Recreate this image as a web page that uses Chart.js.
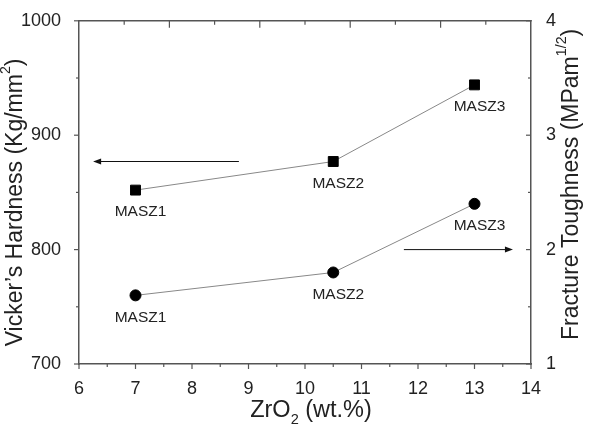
<!DOCTYPE html>
<html>
<head>
<meta charset="utf-8">
<script src="https://cdn.jsdelivr.net/npm/chart.js@4.4.0/dist/chart.umd.min.js"></script>
<style>
  html, body { margin: 0; padding: 0; background: #fff; }
  #wrap { width: 590px; height: 426px; }
</style>
</head>
<body>
<div id="wrap"><canvas id="chart" width="590" height="426"></canvas></div>
<script>
// data
const zrContent = [7, 10.5, 13];
const sampleNames = ['MASZ1', 'MASZ2', 'MASZ3'];
const hardness = [852, 877, 944];
const toughness = [1.6, 1.8, 2.4];
const xTickValues = [6, 7, 8, 9, 10, 11, 12, 13, 14];
const hardnessTicks = [700, 800, 900, 1000];
const toughnessTicks = [1, 2, 3, 4];

const fontFamily = "'Liberation Sans', Arial, sans-serif";
const textColor = '#222';
const axisColor = '#555';

function drawRich(ctx, parts, cx, cy, rot, size) {
    ctx.save();
    ctx.translate(cx, cy);
    ctx.rotate(rot);
    ctx.fillStyle = textColor;
    ctx.textBaseline = 'middle';
    ctx.textAlign = 'left';
    let total = 0;
    parts.forEach(p => {
        ctx.font = (p.s ? size * 0.62 : size) + 'px ' + fontFamily;
        p.w = ctx.measureText(p.t).width;
        total += p.w;
    });
    let xx = -total / 2;
    parts.forEach(p => {
        ctx.font = (p.s ? size * 0.62 : size) + 'px ' + fontFamily;
        let dy = 0;
        if (p.s === 'sup') dy = -size * 0.42;
        if (p.s === 'sub') dy = size * 0.38;
        ctx.fillText(p.t, xx, dy);
        xx += p.w;
    });
    ctx.restore();
}

function arrow(ctx, x1, y1, x2, y2) {
    const ang = Math.atan2(y2 - y1, x2 - x1);
    ctx.beginPath();
    ctx.moveTo(x1, y1);
    ctx.lineTo(x2 - 6 * Math.cos(ang), y2 - 6 * Math.sin(ang));
    ctx.stroke();
    ctx.beginPath();
    ctx.moveTo(x2, y2);
    ctx.lineTo(x2 - 8 * Math.cos(ang) + 3 * Math.sin(ang), y2 - 8 * Math.sin(ang) - 3 * Math.cos(ang));
    ctx.lineTo(x2 - 8 * Math.cos(ang) - 3 * Math.sin(ang), y2 - 8 * Math.sin(ang) + 3 * Math.cos(ang));
    ctx.closePath();
    ctx.fill();
}

const decor = {
    id: 'decor',
    afterDraw(chart) {
        const { ctx, chartArea: a, scales } = chart;
        const sx = scales.x, sy = scales.y, sy2 = scales.y2;
        const seg = (x1, y1, x2, y2) => {
            ctx.beginPath(); ctx.moveTo(x1, y1); ctx.lineTo(x2, y2); ctx.stroke();
        };
        ctx.save();
        ctx.strokeStyle = axisColor;
        ctx.lineWidth = 1.5;
        // top frame line
        seg(a.left - 0.75, a.top, a.right + 0.75, a.top);

        ctx.lineWidth = 1.2;
        // bottom axis ticks, outward
        for (let v = 6; v <= 14; v += 0.5) {
            const px = sx.getPixelForValue(v);
            seg(px, a.bottom, px, a.bottom + (v % 1 === 0 ? 5 : 3));
        }
        // left axis ticks, outward
        for (let v = 700; v <= 1000; v += 50) {
            const py = sy.getPixelForValue(v);
            seg(a.left, py, a.left - (v % 100 === 0 ? 5 : 3), py);
        }
        // right axis ticks, inward
        for (let v = 1; v <= 4; v += 0.5) {
            const py = sy2.getPixelForValue(v);
            seg(a.right, py, a.right - (v % 1 === 0 ? 5 : 3), py);
        }
        // top axis ticks, inward, 10 divisions
        for (let k = 1; k < 10; k++) {
            const px = a.left + k * (a.right - a.left) / 10;
            seg(px, a.top, px, a.top + (k % 2 === 0 ? 7 : 4));
        }

        // arrows pointing to the relevant axis
        ctx.strokeStyle = '#111';
        ctx.fillStyle = '#111';
        ctx.lineWidth = 1;
        const ay1 = sy.getPixelForValue(877);
        arrow(ctx, sx.getPixelForValue(8.83), ay1, sx.getPixelForValue(6.25), ay1);
        const ay2 = sy2.getPixelForValue(2.0);
        arrow(ctx, sx.getPixelForValue(11.75), ay2, sx.getPixelForValue(13.68), ay2);

        // point labels
        ctx.fillStyle = textColor;
        ctx.font = '15.5px ' + fontFamily;
        ctx.textAlign = 'center';
        ctx.textBaseline = 'middle';
        chart.data.datasets.forEach((ds, di) => {
            chart.getDatasetMeta(di).data.forEach((pt, i) => {
                ctx.fillText(sampleNames[i], pt.x + 5, pt.y + 22);
            });
        });

        // axis titles
        drawRich(ctx, [{ t: 'Vicker’s Hardness (Kg/mm' }, { t: '2', s: 'sup' }, { t: ')' }],
            16, (a.top + a.bottom) / 2 + 10, -Math.PI / 2, 23);
        drawRich(ctx, [{ t: 'Fracture Toughness (MPam' }, { t: '1/2', s: 'sup' }, { t: ')' }],
            572, (a.top + a.bottom) / 2 - 8, -Math.PI / 2, 23);
        drawRich(ctx, [{ t: 'ZrO' }, { t: '2', s: 'sub' }, { t: ' (wt.%)' }],
            (a.left + a.right) / 2 + 6, 411, 0, 23.5);
        ctx.restore();
    }
};

const tickFont = { family: fontFamily, size: 18 };

new Chart(document.getElementById('chart'), {
    type: 'line',
    data: {
        datasets: [{
            label: 'Hardness',
            data: zrContent.map((x, i) => ({ x: x, y: hardness[i] })),
            yAxisID: 'y',
            borderColor: '#888',
            borderWidth: 1,
            pointStyle: 'rect',
            pointRadius: 7,
            pointBackgroundColor: '#000',
            pointBorderColor: '#000',
            pointBorderWidth: 1
        }, {
            label: 'Toughness',
            data: zrContent.map((x, i) => ({ x: x, y: toughness[i] })),
            yAxisID: 'y2',
            borderColor: '#888',
            borderWidth: 1,
            pointStyle: 'circle',
            pointRadius: 5.5,
            pointBackgroundColor: '#000',
            pointBorderColor: '#000',
            pointBorderWidth: 1
        }]
    },
    options: {
        responsive: false,
        animation: false,
        devicePixelRatio: 1,
        layout: { padding: { top: 16, left: 0, right: 0, bottom: 0 } },
        plugins: {
            legend: { display: false },
            tooltip: { enabled: false }
        },
        scales: {
            x: {
                type: 'linear',
                min: 6, max: 14,
                afterBuildTicks: s => { s.ticks = xTickValues.map(v => ({ value: v })); },
                afterFit: s => { s.height = 62; },
                grid: { display: false },
                border: { display: true, color: axisColor, width: 1.5 },
                ticks: { font: tickFont, color: textColor, padding: 6, maxRotation: 0, callback: v => String(v) }
            },
            y: {
                position: 'left',
                min: 700, max: 1000,
                afterBuildTicks: s => { s.ticks = hardnessTicks.map(v => ({ value: v })); },
                afterFit: s => { s.width = 79; },
                grid: { display: false },
                border: { display: true, color: axisColor, width: 1.5 },
                ticks: { font: tickFont, color: textColor, padding: 10, callback: v => String(v) }
            },
            y2: {
                position: 'right',
                min: 1, max: 4,
                afterBuildTicks: s => { s.ticks = toughnessTicks.map(v => ({ value: v })); },
                afterFit: s => { s.width = 59; },
                grid: { display: false },
                border: { display: true, color: axisColor, width: 1.5 },
                ticks: { font: tickFont, color: textColor, padding: 7, callback: v => String(v) }
            }
        }
    },
    plugins: [decor]
});
</script>
</body>
</html>
